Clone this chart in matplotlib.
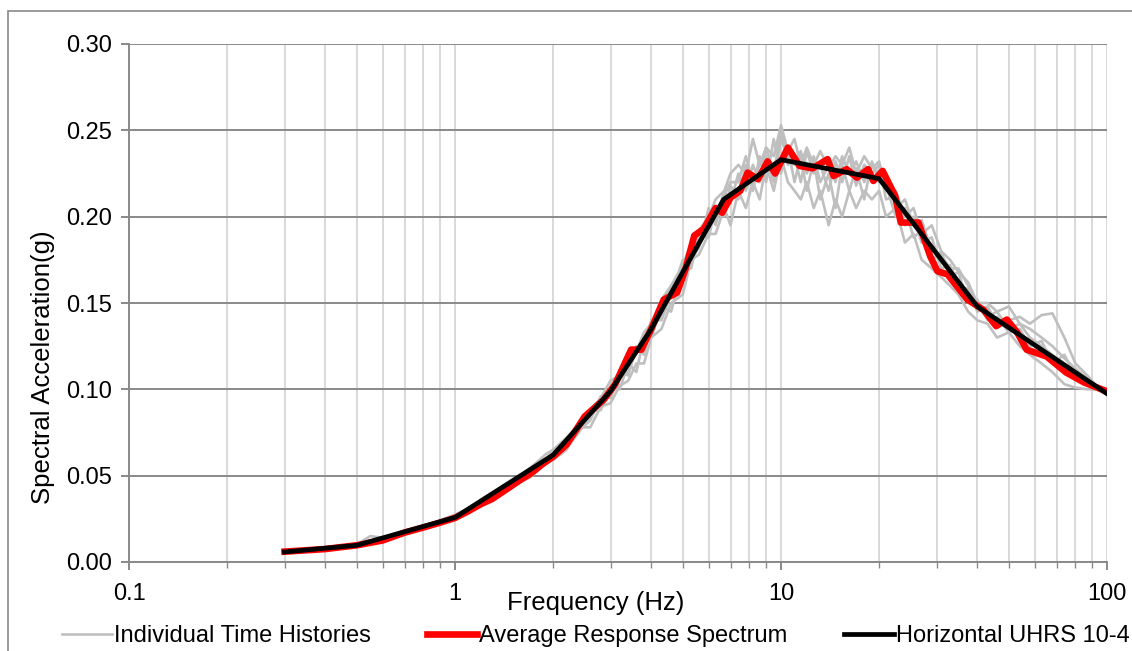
import matplotlib
matplotlib.use("Agg")
import matplotlib.pyplot as plt
from matplotlib.patches import Rectangle
from matplotlib.ticker import FixedLocator, NullFormatter

plt.rcParams['font.family'] = ['Liberation Sans', 'DejaVu Sans']

# frequencies for the individual time histories (Hz)
gray_freq = [0.3, 0.35, 0.4, 0.45, 0.5, 0.55, 0.6, 0.7, 0.8, 0.9,
             1.0, 1.1, 1.2, 1.3, 1.4, 1.5, 1.6, 1.7, 1.8, 1.9,
             2.0, 2.2, 2.4, 2.6, 2.8, 3.0, 3.2, 3.4, 3.6, 3.8,
             4.0, 4.3, 4.6, 5.0, 5.3, 5.6, 6.0, 6.3, 6.7, 7.0,
             7.4, 7.8, 8.2, 8.6, 9.0, 9.5, 10, 10.5, 11, 11.5,
             12, 12.6, 13.2, 14, 14.7, 15.4, 16.2, 17, 18, 19,
             20, 21, 22.5, 24, 25.5, 27, 29, 31, 33, 35,
             37.5, 40, 43, 46, 50, 54, 58, 63, 68, 74,
             80, 87, 93, 100]

gray_1 = [.0062, .0066, .0078, .0090, .0102, .0150, .0140, .0175, .0205, .0230,
          .0260, .0305, .0340, .0370, .0420, .0470, .0480, .0520, .0570, .0590,
          .0600, .0700, .0790, .0830, .0940, .0960, .1100, .1080, .1250, .1200,
          .1380, .1420, .1600, .1650, .1820, .1850, .2000, .1980, .2150, .2080,
          .2250, .2150, .2300, .2200, .2400, .2250, .2500, .2300, .2350, .2200,
          .2380, .2250, .2300, .2150, .2320, .2200, .2350, .2180, .2300, .2250,
          .2300, .2100, .2120, .1950, .2000, .1850, .1880, .1700, .1720, .1600,
          .1580, .1500, .1420, .1450, .1350, .1380, .1300, .1250, .1200, .1150,
          .1120, .1050, .1000, .0980]

gray_2 = [.0058, .0070, .0075, .0084, .0095, .0108, .0122, .0168, .0195, .0240,
          .0270, .0290, .0350, .0365, .0435, .0450, .0500, .0505, .0545, .0600,
          .0640, .0660, .0750, .0870, .0880, .1010, .1000, .1150, .1100, .1300,
          .1300, .1480, .1450, .1700, .1700, .1900, .1880, .2050, .2000, .2180,
          .2100, .2300, .2150, .2350, .2200, .2450, .2250, .2400, .2200, .2350,
          .2150, .2330, .2100, .2250, .2050, .2300, .2150, .2280, .2100, .2320,
          .2200, .2180, .2000, .2050, .1880, .1920, .1750, .1800, .1650, .1680,
          .1500, .1520, .1400, .1420, .1330, .1350, .1250, .1280, .1150, .1200,
          .1080, .1080, .1020, .0975]

gray_3 = [.0060, .0069, .0077, .0086, .0098, .0112, .0128, .0172, .0200, .0232,
          .0262, .0305, .0345, .0390, .0415, .0475, .0470, .0540, .0555, .0590,
          .0610, .0720, .0760, .0820, .0960, .0950, .1080, .1100, .1230, .1250,
          .1400, .1400, .1550, .1750, .1750, .1820, .2050, .1950, .2120, .2200,
          .2200, .2350, .2200, .2300, .2350, .2200, .2450, .2350, .2300, .2380,
          .2250, .2350, .2200, .2300, .2200, .2350, .2250, .2320, .2200, .2300,
          .2250, .2250, .2050, .2100, .1950, .1980, .1800, .1780, .1700, .1700,
          .1600, .1450, .1480, .1380, .1400, .1420, .1380, .1430, .1440, .1300,
          .1150, .1080, .1000, .0980]

gray_4 = [.0059, .0067, .0075, .0083, .0094, .0106, .0120, .0165, .0195, .0225,
          .0250, .0285, .0325, .0370, .0395, .0435, .0465, .0490, .0530, .0575,
          .0590, .0650, .0780, .0780, .0900, .0920, .1020, .1050, .1150, .1150,
          .1300, .1350, .1500, .1550, .1750, .1780, .1900, .1900, .2050, .1950,
          .2150, .2050, .2200, .2100, .2300, .2150, .2350, .2200, .2150, .2100,
          .2200, .2050, .2150, .1950, .2100, .2000, .2150, .2050, .2150, .2100,
          .2150, .2000, .2050, .1850, .1900, .1750, .1700, .1650, .1600, .1550,
          .1450, .1400, .1380, .1300, .1330, .1250, .1200, .1150, .1100, .1030,
          .1010, .1000, .1000, .0970]

gray_5 = [.0061, .0068, .0079, .0087, .0100, .0112, .0130, .0178, .0210, .0240,
          .0275, .0310, .0355, .0395, .0440, .0470, .0505, .0545, .0585, .0625,
          .0650, .0720, .0800, .0880, .0950, .1050, .1080, .1180, .1220, .1330,
          .1380, .1520, .1600, .1720, .1850, .1920, .2000, .2100, .2150, .2250,
          .2300, .2250, .2450, .2300, .2400, .2350, .2530, .2380, .2450, .2300,
          .2400, .2300, .2380, .2280, .2350, .2300, .2400, .2250, .2350, .2280,
          .2320, .2150, .2150, .2000, .2050, .1900, .1950, .1800, .1750, .1680,
          .1620, .1500, .1500, .1450, .1480, .1380, .1350, .1300, .1250, .1180,
          .1120, .1060, .1020, .0980]

# average response spectrum
avg_freq = [0.3, 0.4, 0.5, 0.6, 0.7, 0.8, 0.9, 1.0, 1.1, 1.2,
            1.3, 1.45, 1.6, 1.7, 1.85, 2.0, 2.2, 2.5, 2.86, 3.1,
            3.47, 3.73, 4.0, 4.37, 4.8, 5.1, 5.42, 5.8, 6.3, 6.6,
            7.0, 7.5, 7.9, 8.5, 9.1, 9.6, 10.5, 11.4, 12.5, 13.9,
            14.5, 15.9, 17.1, 18.5, 19.2, 20.5, 22.4, 23.3, 26.4, 28.7,
            30.2, 32.4, 37.3, 41.8, 45.7, 49.3, 53.0, 56.7, 65.3, 75.0,
            85.0, 100]
avg_sa = [.0060, .0075, .0097, .0125, .0170, .0200, .0228, .0255, .0295, .0335,
          .0365, .0425, .0480, .0510, .0565, .0610, .0680, .0843, .0940, .1030,
          .1230, .1230, .1350, .1520, .1560, .1700, .1890, .1930, .2050, .2023,
          .2110, .2150, .2255, .2217, .2320, .2250, .2400, .2294, .2280, .2333,
          .2236, .2275, .2226, .2275, .2207, .2265, .2120, .1966, .1966, .1770,
          .1684, .1666, .1520, .1460, .1366, .1404, .1330, .1230, .1190, .1097,
          .1040, .0988]

# horizontal UHRS 10-4
uhrs_freq = [0.3, 0.5, 1.0, 2.0, 3.0, 4.0, 5.0, 6.67, 10, 20, 40, 100]
uhrs_sa = [.0058, .0097, .0258, .062, .099, .135, .168, .210, .233, .222, .148, .0975]

fig = plt.figure(figsize=(11.32, 6.51), dpi=100)
ax = fig.add_axes([129/1132, 1 - 562/651, (1107 - 129)/1132, (562 - 44)/651])

gray_sets = [gray_1, gray_2, gray_3, gray_4, gray_5]
for i, g in enumerate(gray_sets):
    ax.plot(gray_freq, g, color='#bfbfbf', lw=1.9,
            label='Individual Time Histories' if i == 0 else None, zorder=3)
ax.plot(avg_freq, avg_sa, color='#ff0000', lw=4.8, label='Average Response Spectrum', zorder=4)
ax.plot(uhrs_freq, uhrs_sa, color='#000000', lw=3.4, label='Horizontal UHRS 10-4', zorder=5)

ax.set_xscale('log')
ax.set_xlim(0.1, 100)
ax.set_ylim(0, 0.30)
ax.set_yticks([0, 0.05, 0.10, 0.15, 0.20, 0.25, 0.30])
ax.set_yticklabels(['0.00', '0.05', '0.10', '0.15', '0.20', '0.25', '0.30'])
ax.set_xticks([0.1, 1, 10, 100])
ax.set_xticklabels(['0.1', '1', '10', '100'])
minors = [m * d for d in [0.1, 1, 10] for m in range(2, 10)]
ax.xaxis.set_minor_locator(FixedLocator(minors))
ax.xaxis.set_minor_formatter(NullFormatter())

ax.grid(axis='y', which='major', color='#898989', lw=1.4, zorder=1)
ax.grid(axis='x', which='both', color='#d9d9d9', lw=1.4, zorder=1)

for s in ['top', 'right']:
    ax.spines[s].set_visible(False)
for s in ['left', 'bottom']:
    ax.spines[s].set_color('#898989')
    ax.spines[s].set_linewidth(1.4)

ax.tick_params(axis='both', which='major', colors='#898989', length=6, width=1.4,
               labelsize=17, labelcolor='black', pad=6)
ax.tick_params(axis='x', which='minor', colors='#898989', length=4, width=1.0)
ax.tick_params(axis='x', which='major', pad=9)

fig.text(43/1132, 1 - 367/651, 'Spectral Acceleration(g)', rotation=90,
         ha='center', va='center', fontsize=18.5)
fig.text(596/1132, 1 - 603/651, 'Frequency (Hz)', ha='center', va='center', fontsize=18.5)

fig.legend(loc='center', bbox_to_anchor=(596/1132, 1 - 636/651), ncol=3, frameon=False,
           fontsize=17, handlelength=2.1, handletextpad=0.1, columnspacing=2.4,
           borderpad=0)

fig.patches.append(Rectangle((8/1132, -0.1), 1.2, 1 - 11/651 + 0.1, transform=fig.transFigure,
                             fill=False, edgecolor='#898989', lw=1.2))

fig.savefig('out.png', dpi=100)
